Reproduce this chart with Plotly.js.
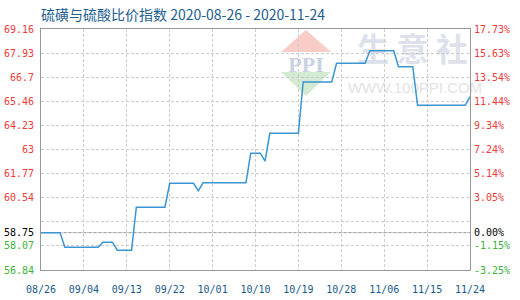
<!DOCTYPE html>
<html>
<head>
<meta charset="utf-8">
<script src="https://cdn.plot.ly/plotly-3.0.1.min.js"></script>
<style>
  html, body { margin: 0; padding: 0; background: #ffffff; }
  #chart { width: 520px; height: 300px; }
</style>
</head>
<body>
<div id="chart"></div>
<script>
// Sulphur / sulphuric acid price ratio index, daily, 2020-08-26 .. 2020-11-24
const startDate = '2020-08-26';
const baseValue = 58.75;
const indexValues = [
  58.75, 58.75, 58.75, 58.75, 58.75,
  58.00, 58.00, 58.00, 58.00, 58.00, 58.00, 58.00, 58.00,
  58.26, 58.26, 58.26,
  57.85, 57.85, 57.85, 57.85,
  60.05, 60.05, 60.05, 60.05, 60.05, 60.05, 60.05,
  61.27, 61.27, 61.27, 61.27, 61.27, 61.27,
  60.89,
  61.30, 61.30, 61.30, 61.30, 61.30, 61.30, 61.30, 61.30, 61.30, 61.30,
  62.81, 62.81, 62.81,
  62.41,
  63.83, 63.83, 63.83, 63.83, 63.83, 63.83, 63.83,
  66.45, 66.45, 66.45, 66.45, 66.45, 66.45, 66.45,
  67.41, 67.41, 67.41, 67.41, 67.41, 67.41, 67.41,
  68.05, 68.05, 68.05, 68.05, 68.05, 68.05,
  67.23, 67.23, 67.23, 67.23,
  65.26, 65.26, 65.26, 65.26, 65.26, 65.26, 65.26, 65.26, 65.26, 65.26, 65.26,
  65.70
];

// Left axis (index) ticks and right axis (change vs. base) labels
const yTickVals = [69.16, 67.93, 66.70, 65.46, 64.23, 63.00, 61.77, 60.54, 59.30, 58.75, 58.07, 56.84];
const yTickText = ['69.16', '67.93', '66.7', '65.46', '64.23', '63', '61.77', '60.54', '', '58.75', '58.07', '56.84'];
const pctTickText = ['17.73%', '15.63%', '13.54%', '11.44%', '9.34%', '7.24%', '5.14%', '3.05%', '', '0.00%', '-1.15%', '-3.25%'];
const yRange = [56.84, 69.16];
const xRange = ['2020-08-26', '2020-11-24'];

const titleText = '硫磺与硫酸比价指数 2020-08-26 - 2020-11-24';

// daily date axis
const dates = indexValues.map((_, i) => {
  const d = new Date(Date.UTC(2020, 7, 26 + i));
  return d.toISOString().slice(0, 10);
});

// colour a tick label by where it sits relative to the base value
function tone(v, txt) {
  let c = '#000000';
  if (v > baseValue + 1e-9) c = '#f03a3a';
  else if (v < baseValue - 1e-9) c = '#3bb33b';
  return txt === '' ? '' : '<span style="color:' + c + '">' + txt + '</span>';
}
const leftText = yTickVals.map((v, i) => tone(v, yTickText[i]));
const rightText = yTickVals.map((v, i) => tone(v, pctTickText[i]));

// plot-area geometry (pixels) used to place the faint site mark
const M = { l: 41, r: 50, t: 29, b: 30 };
const W = 520, H = 300;
const pw = W - M.l - M.r, ph = H - M.t - M.b;
const px = x => (x - M.l) / pw;
const py = y => 1 - (y - M.t) / ph;
function tri(a, b, c) {
  return 'M' + px(a[0]) + ',' + py(a[1]) + ' L' + px(b[0]) + ',' + py(b[1]) + ' L' + px(c[0]) + ',' + py(c[1]) + ' Z';
}
function labelBox(x0, y0, x1, y1, text, font) {
  return {
    type: 'rect', xref: 'paper', yref: 'paper', layer: 'below',
    x0: px(x0), x1: px(x1), y0: py(y1), y1: py(y0),
    line: { width: 0 }, fillcolor: 'rgba(0,0,0,0)',
    label: { text: text, font: font, textposition: 'middle center' }
  };
}

const shapes = [
  { type: 'path', xref: 'paper', yref: 'paper', layer: 'below',
    path: tri([306, 30], [281, 52], [331, 52]), fillcolor: '#f8cdc8', line: { width: 0 } },
  { type: 'path', xref: 'paper', yref: 'paper', layer: 'below',
    path: tri([281, 72], [331, 72], [306, 96]), fillcolor: '#d3ebd3', line: { width: 0 } },
  labelBox(281, 53, 331, 71, 'PPI', { family: 'Liberation Serif', size: 22, color: '#c9d2e3', weight: 'bold' }),
  labelBox(350, 34, 475, 70, '生 意 社', { family: 'Noto Sans CJK SC', size: 32, color: '#dde1eb', weight: 'bold' }),
  labelBox(350, 79, 480, 94, 'WWW.100PPI.COM', { family: 'Liberation Sans', size: 15, color: '#e3e3e3' }),
  // base-value reference line
  { type: 'line', xref: 'paper', yref: 'y', layer: 'between',
    x0: 0, x1: 1, y0: baseValue, y1: baseValue, line: { color: '#999999', width: 1 } }
];

const traces = [
  { x: dates, y: indexValues, type: 'scatter', mode: 'lines',
    line: { color: '#3a95d3', width: 1.5 }, hoverinfo: 'skip', showlegend: false },
  { x: dates, y: indexValues, type: 'scatter', mode: 'lines', yaxis: 'y2',
    opacity: 0, line: { width: 0 }, hoverinfo: 'skip', showlegend: false }
];

const tickFont = { family: 'DejaVu Sans Mono', size: 10 };

const layout = {
  width: W, height: H,
  margin: M,
  paper_bgcolor: '#ffffff', plot_bgcolor: '#ffffff',
  showlegend: false,
  title: {
    text: titleText,
    xref: 'paper', x: 0, xanchor: 'left',
    yref: 'container', y: 1 - 15 / H, yanchor: 'middle',
    font: { family: 'Noto Sans CJK SC', size: 14, color: '#1d5e8f' }
  },
  xaxis: {
    type: 'date', range: xRange,
    tick0: xRange[0], dtick: 9 * 86400000, tickformat: '%m/%d',
    showgrid: true, gridcolor: '#cccccc', griddash: '3px,2px', gridwidth: 1,
    showline: true, linecolor: '#999999', linewidth: 1, mirror: true,
    zeroline: false, ticks: '', ticklabelstandoff: 10,
    tickfont: Object.assign({ color: '#1a5a8a' }, tickFont)
  },
  yaxis: {
    range: yRange, tickmode: 'array', tickvals: yTickVals, ticktext: leftText,
    showgrid: true, gridcolor: '#cccccc', griddash: '3px,2px', gridwidth: 1,
    showline: true, linecolor: '#999999', linewidth: 1, mirror: true,
    zeroline: false, ticks: '', ticklabelstandoff: 4,
    tickfont: tickFont
  },
  yaxis2: {
    range: yRange, overlaying: 'y', side: 'right',
    tickmode: 'array', tickvals: yTickVals, ticktext: rightText,
    showgrid: false, showline: false, zeroline: false, ticks: '', ticklabelstandoff: 3,
    tickfont: tickFont
  },
  shapes: shapes
};

Plotly.newPlot('chart', traces, layout, { staticPlot: true, displayModeBar: false });
</script>
</body>
</html>
